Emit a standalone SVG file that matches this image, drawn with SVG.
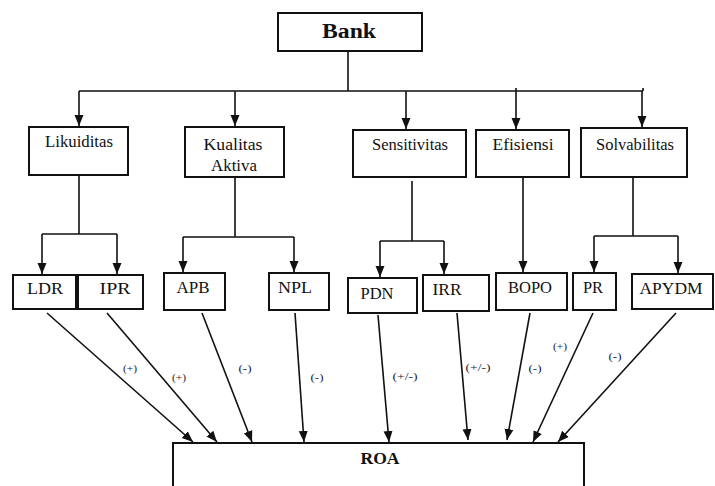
<svg xmlns="http://www.w3.org/2000/svg" width="715" height="486" viewBox="0 0 715 486">
<style>
.box{fill:#fff;stroke:#111;stroke-width:2}
.t{font-family:"Liberation Serif","Times New Roman",serif;font-size:16px;fill:#111;text-anchor:middle}
.b{font-weight:bold}
.lbl{font-family:"Liberation Serif","Times New Roman",serif;font-size:11px;fill:#1a1a33;text-anchor:middle}
.c{fill:none;stroke:#111;stroke-width:1.6}
</style>
<defs>
<marker id="ah" markerUnits="userSpaceOnUse" markerWidth="12" markerHeight="12" viewBox="0 0 12 12" refX="11" refY="6" orient="auto">
<path d="M0,1.5 L11,6 L0,10.5 Z" fill="#111"/>
</marker>
</defs>
<rect width="715" height="486" fill="#fff"/>
<g id="connectors">
<path class="c" d="M348,51 V91 M79,91 H643 M643,88 V91"/>
<path class="c" d="M79,91 V126" marker-end="url(#ah)"/>
<path class="c" d="M235,91 V126" marker-end="url(#ah)"/>
<path class="c" d="M406,91 V129" marker-end="url(#ah)"/>
<path class="c" d="M516,88 V129" marker-end="url(#ah)"/>
<path class="c" d="M642,91 V127" marker-end="url(#ah)"/>
<path class="c" d="M79,175 V234 M42,234 H117"/>
<path class="c" d="M42,234 V274" marker-end="url(#ah)"/>
<path class="c" d="M117,234 V274" marker-end="url(#ah)"/>
<path class="c" d="M235,177 V237 M183,237 H294"/>
<path class="c" d="M183,237 V272" marker-end="url(#ah)"/>
<path class="c" d="M294,237 V272" marker-end="url(#ah)"/>
<path class="c" d="M412,181 V241 M380,241 H444"/>
<path class="c" d="M380,241 V277" marker-end="url(#ah)"/>
<path class="c" d="M444,241 V274" marker-end="url(#ah)"/>
<path class="c" d="M523,177 V272" marker-end="url(#ah)"/>
<path class="c" d="M633,177 V236 M594,236 H678"/>
<path class="c" d="M594,236 V272" marker-end="url(#ah)"/>
<path class="c" d="M678,236 V273" marker-end="url(#ah)"/>
<path class="c" d="M47,313 L193,442" marker-end="url(#ah)"/>
<path class="c" d="M107,313 L217,442" marker-end="url(#ah)"/>
<path class="c" d="M202,313 L252,442" marker-end="url(#ah)"/>
<path class="c" d="M295,313 L304,442" marker-end="url(#ah)"/>
<path class="c" d="M378,315 L389,442" marker-end="url(#ah)"/>
<path class="c" d="M457,313 L468,440" marker-end="url(#ah)"/>
<path class="c" d="M530,313 L507,440" marker-end="url(#ah)"/>
<path class="c" d="M593,313 L533,442" marker-end="url(#ah)"/>
<path class="c" d="M676,313 L558,442" marker-end="url(#ah)"/>
<text class="lbl" x="130" y="372" textLength="14" lengthAdjust="spacingAndGlyphs">(+)</text>
<text class="lbl" x="179" y="381" textLength="14" lengthAdjust="spacingAndGlyphs">(+)</text>
<text class="lbl" x="245" y="372" textLength="13" lengthAdjust="spacingAndGlyphs">(-)</text>
<text class="lbl" x="317" y="381" textLength="13" lengthAdjust="spacingAndGlyphs">(-)</text>
<text class="lbl" x="405" y="380" textLength="25" lengthAdjust="spacingAndGlyphs">(+/-)</text>
<text class="lbl" x="478" y="371" textLength="25" lengthAdjust="spacingAndGlyphs">(+/-)</text>
<text class="lbl" x="535" y="372" textLength="13" lengthAdjust="spacingAndGlyphs">(-)</text>
<text class="lbl" x="560" y="350" textLength="14" lengthAdjust="spacingAndGlyphs">(+)</text>
<text class="lbl" x="615" y="360" textLength="13" lengthAdjust="spacingAndGlyphs">(-)</text>
</g>
<g id="bank"><rect class="box" x="278" y="13" width="144" height="38"/><text class="t b" x="349" y="38" font-size="20" style="font-size:20px" textLength="54" lengthAdjust="spacingAndGlyphs">Bank</text></g>
<g id="likuiditas"><rect class="box" x="29" y="127" width="99" height="48"/><text class="t" x="79" y="147" textLength="68" lengthAdjust="spacingAndGlyphs">Likuiditas</text></g>
<g id="kualitas-aktiva"><rect class="box" x="185" y="127" width="99" height="50"/><text class="t" x="233" y="150" textLength="59" lengthAdjust="spacingAndGlyphs">Kualitas</text><text class="t" x="234" y="171" textLength="46" lengthAdjust="spacingAndGlyphs">Aktiva</text></g>
<g id="sensitivitas"><rect class="box" x="353" y="130" width="113" height="47"/><text class="t" x="410" y="150" textLength="76" lengthAdjust="spacingAndGlyphs">Sensitivitas</text></g>
<g id="efisiensi"><rect class="box" x="476" y="130" width="93" height="47"/><text class="t" x="523" y="150" textLength="61" lengthAdjust="spacingAndGlyphs">Efisiensi</text></g>
<g id="solvabilitas"><rect class="box" x="581" y="128" width="106" height="49"/><text class="t" x="635" y="150" textLength="78" lengthAdjust="spacingAndGlyphs">Solvabilitas</text></g>
<g id="ldr"><rect class="box" x="13" y="275" width="63" height="34"/><text class="t" x="45" y="294" textLength="36" lengthAdjust="spacingAndGlyphs">LDR</text></g>
<g id="ipr"><rect class="box" x="78" y="275" width="65" height="34"/><text class="t" x="115" y="294" textLength="31" lengthAdjust="spacingAndGlyphs">IPR</text></g>
<g id="apb"><rect class="box" x="164" y="273" width="61" height="37"/><text class="t" x="193" y="293" textLength="33" lengthAdjust="spacingAndGlyphs">APB</text></g>
<g id="npl"><rect class="box" x="269" y="273" width="60" height="37"/><text class="t" x="295" y="293" textLength="34" lengthAdjust="spacingAndGlyphs">NPL</text></g>
<g id="pdn"><rect class="box" x="348" y="278" width="69" height="35"/><text class="t" x="377" y="299" textLength="33" lengthAdjust="spacingAndGlyphs">PDN</text></g>
<g id="irr"><rect class="box" x="423" y="275" width="66" height="36"/><text class="t" x="447" y="295" textLength="29" lengthAdjust="spacingAndGlyphs">IRR</text></g>
<g id="bopo"><rect class="box" x="496" y="273" width="71" height="37"/><text class="t" x="530" y="293" textLength="44" lengthAdjust="spacingAndGlyphs">BOPO</text></g>
<g id="pr"><rect class="box" x="573" y="273" width="43" height="37"/><text class="t" x="593" y="293" textLength="20" lengthAdjust="spacingAndGlyphs">PR</text></g>
<g id="apydm"><rect class="box" x="632" y="274" width="81" height="35"/><text class="t" x="671" y="294" textLength="63" lengthAdjust="spacingAndGlyphs">APYDM</text></g>
<g id="roa"><rect class="box" x="173" y="443" width="411" height="60"/><text class="t b" x="380" y="464" style="font-size:17px" textLength="39" lengthAdjust="spacingAndGlyphs">ROA</text></g>
</svg>
